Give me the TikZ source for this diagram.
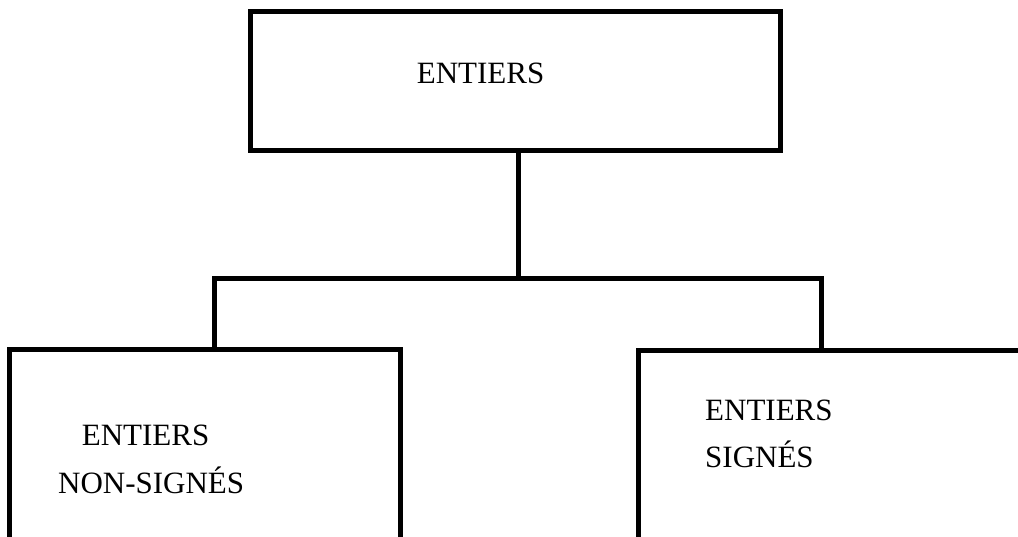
\documentclass[tikz,border=0pt]{standalone}
\usepackage{fontspec}
\setmainfont{Liberation Serif}
\begin{document}
\begin{tikzpicture}[x=1pt,y=-1pt,
  box/.style={draw=black,line width=5pt,inner sep=0pt,outer sep=0pt,fill=none},
  lbl/.style={inner sep=0pt,anchor=base west,font=\fontsize{31}{36}\selectfont},
  link/.style={draw=black,line width=5pt}]
  \useasboundingbox (0,0) rectangle (1018,536);
  \fill[white] (0,0) rectangle (1018,536);
  \clip (0,0) rectangle (1018,536);

  % boxes
  \node[box,minimum width=530pt,minimum height=138.8pt] (root) at (515.5,81.1) {};
  \node[box,minimum width=391.5pt,minimum height=220pt] (uns) at (204.75,459) {};
  \node[box,minimum width=402pt,minimum height=220pt] (sig) at (839,460.5) {};

  % labels
  \node[lbl] (troot) at (416.7,83.3) {ENTIERS};
  \node[lbl] (tuns1) at (81.7,445) {ENTIERS};
  \node[lbl] (tuns2) at (58,493) {NON-SIGNÉS};
  \node[lbl] (tsig1) at (705,420.7) {ENTIERS};
  \node[lbl] (tsig2) at (705,467) {SIGNÉS};

  % tree connectors
  \coordinate (mid) at (518.5,278.5);
  \coordinate (jl) at (214,278.5);
  \coordinate (jr) at (821.5,278.5);
  \draw[link] (root.south -| mid) -- (mid);
  \draw[link] (jl |- uns.north) -- (jl) -- (jr) -- (jr |- sig.north);
\end{tikzpicture}
\end{document}
